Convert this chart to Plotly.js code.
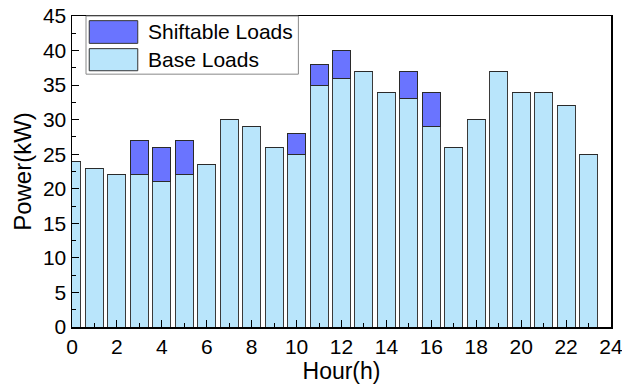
<!DOCTYPE html>
<html><head><meta charset="utf-8">
<script src="https://cdn.plot.ly/plotly-3.0.1.min.js"></script>
<style>body{margin:0}#c{width:622px;height:387px}</style>
</head><body><div id="c"></div>
<script>
const hours = [0,1,2,3,4,5,6,7,8,9,10,11,12,13,14,15,16,17,18,19,20,21,22,23];
const baseLoads = [24,23,22,22,21,22,23.5,30,29,26,25,35,36,37,34,33,29,26,30,37,34,34,32,25];
const shiftableLoads = [0,0,0,5,5,5,0,0,0,0,3,3,4,0,0,4,5,0,0,0,0,0,0,0];
const seriesNames = ['Shiftable Loads','Base Loads'];
const xTicks = [0,2,4,6,8,10,12,14,16,18,20,22,24];
const yTicks = [0,5,10,15,20,25,30,35,40,45];

const baseColor = '#b9e5fb';
const shiftColor = '#6a74ff';
const font = '"Liberation Sans", Arial, sans-serif';

const traces = [
  {type:'bar', x:hours, y:baseLoads, name:seriesNames[1], width:0.8,
   marker:{color:baseColor, line:{color:'#3a3a3a', width:1}}, showlegend:false},
  {type:'bar', x:hours, y:shiftableLoads, name:seriesNames[0], width:0.8,
   marker:{color:shiftColor, line:{color:'#2a2a2a', width:1}}, showlegend:false}
];

const L = {x0:0.026, x1:0.420, y0:0.813, y1:1.0};
const layout = {
  width:622, height:387,
  margin:{l:72, r:11, t:16, b:60},
  barmode:'stack',
  paper_bgcolor:'white', plot_bgcolor:'white',
  font:{family:font, color:'#000', size:21},
  xaxis:{range:[0,24], tickvals:xTicks, ticks:'inside', ticklen:7, tickwidth:1, tickcolor:'#000',
    ticklabeloverflow:'allow',
    minor:{dtick:1, ticks:'inside', ticklen:4, tickcolor:'#000'},
    showline:true, linecolor:'#000', linewidth:1.5, mirror:true, showgrid:false, zeroline:false,
    tickfont:{size:21}, title:{text:'Hour(h)', font:{size:23}, standoff:0}},
  yaxis:{range:[0,45], tickvals:yTicks, ticks:'inside', ticklen:7, tickwidth:1, tickcolor:'#000',
    ticklabeloverflow:'allow',
    minor:{dtick:2.5, ticks:'inside', ticklen:4, tickcolor:'#000'},
    showline:true, linecolor:'#000', linewidth:1.5, mirror:true, showgrid:false, zeroline:false,
    tickfont:{size:21}, title:{text:'Power(kW)', font:{size:24}, standoff:4}},
  shapes:[
    {type:'rect', xref:'paper', yref:'paper', x0:L.x0, x1:L.x1, y0:L.y0, y1:L.y1,
     line:{color:'#888', width:1}, fillcolor:'white'},
    {type:'rect', xref:'paper', yref:'paper', x0:0.032, x1:0.122, y0:0.912, y1:0.985,
     line:{color:'#333', width:1}, fillcolor:shiftColor},
    {type:'rect', xref:'paper', yref:'paper', x0:0.032, x1:0.122, y0:0.824, y1:0.895,
     line:{color:'#333', width:1}, fillcolor:baseColor}
  ],
  annotations:[
    {xref:'paper', yref:'paper', x:0.137, y:0.949, xanchor:'left', yanchor:'middle',
     text:seriesNames[0], showarrow:false, font:{size:21}},
    {xref:'paper', yref:'paper', x:0.137, y:0.859, xanchor:'left', yanchor:'middle',
     text:seriesNames[1], showarrow:false, font:{size:21}}
  ],
  showlegend:false
};
Plotly.newPlot('c', traces, layout, {displayModeBar:false, staticPlot:true});
</script></body></html>
